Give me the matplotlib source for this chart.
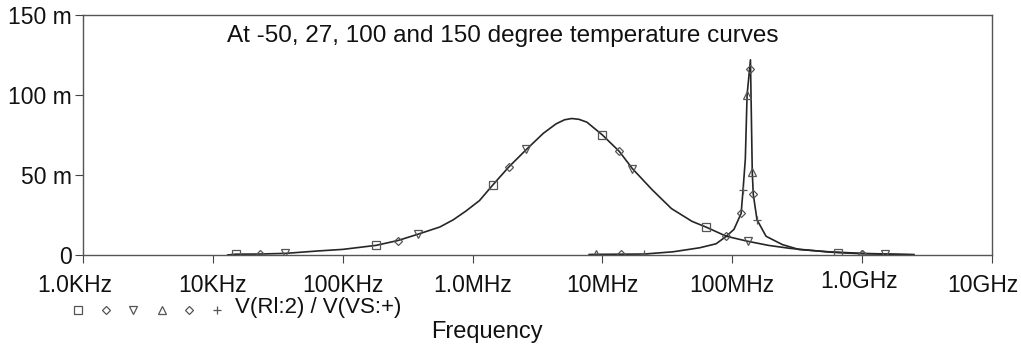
import matplotlib
matplotlib.use("Agg")
import matplotlib.pyplot as plt
import matplotlib.transforms as mtransforms

# curva larga (4 temperaturas sobrepostas), frequencia em Hz, valor em m
freq_a = [13e3, 15e3, 23e3, 36e3, 64e3, 100e3, 180e3, 265e3, 380e3, 560e3,
          710e3, 890e3, 1.13e6, 1.44e6, 1.9e6, 2.6e6, 3.5e6, 4.4e6, 5.1e6,
          5.8e6, 6.6e6, 7.6e6, 10e6, 13.5e6, 17e6, 24e6, 34e6, 49e6, 63e6,
          90e6, 131e6, 190e6, 275e6, 525e6, 650e6, 1.0e9, 1.5e9, 2.5e9]
val_a = [0.0, 0.5, 0.6, 1.0, 2.5, 3.5, 6.0, 9.0, 13.0, 17.5,
         22.0, 27.5, 34.0, 44.0, 55.0, 66.0, 76.0, 82.0, 84.5,
         85.3, 84.8, 83.0, 75.0, 64.7, 54.0, 41.0, 29.0, 21.0, 17.4,
         11.7, 8.6, 6.0, 4.2, 2.0, 1.5, 0.8, 0.5, 0.2]

# curva ressonante estreita
freq_b = [7.9e6, 9e6, 13.8e6, 21e6, 35e6, 56e6, 75e6, 90e6, 103e6,
          117e6, 121e6, 126e6, 130e6, 138e6, 142.5e6, 145e6, 155e6, 182e6, 243e6,
          327e6, 557e6, 1.0e9, 2.5e9]
val_b = [0.3, 0.4, 0.5, 0.6, 2.0, 4.5, 7.0, 11.7, 16.0,
         26.0, 40.6, 60.0, 100.0, 122.0, 52.0, 38.0, 22.0, 11.7, 6.5,
         3.4, 2.0, 1.0, 0.2]

# marcadores de cada traco
mk_sq_f = [15e3, 180e3, 1.44e6, 10e6, 63e6, 650e6]
mk_sq_v = [0.5, 6.0, 44.0, 75.0, 17.4, 1.5]
mk_d1_f = [23e3, 265e3, 1.9e6, 13.5e6, 90e6, 1.0e9]
mk_d1_v = [0.6, 9.0, 55.0, 64.7, 11.7, 0.8]
mk_tdn_f = [36e3, 380e3, 2.6e6, 17e6, 131e6, 1.5e9]
mk_tdn_v = [1.0, 13.0, 66.0, 54.0, 8.6, 0.5]
mk_tup_f = [9e6, 130e6, 142.5e6]
mk_tup_v = [0.4, 100.0, 52.0]
mk_d2_f = [13.8e6, 117e6, 138e6, 145e6, 1.0e9]
mk_d2_v = [0.5, 26.0, 116.0, 38.0, 0.8]
mk_pl_f = [21e6, 121e6, 155e6]
mk_pl_v = [0.6, 40.6, 22.0]

xticks = [1e3, 1e4, 1e5, 1e6, 1e7, 1e8, 1e9, 1e10]
xlabels = ["1.0KHz", "10KHz", "100KHz", "1.0MHz", "10MHz", "100MHz", "1.0GHz", "10GHz"]
yticks = [0, 50, 100, 150]
ylabels = ["0", "50 m", "100 m", "150 m"]

plt.rcParams['font.family'] = ['Liberation Sans', 'DejaVu Sans']
LINE = '#262626'
MK = '#555555'

fig = plt.figure(figsize=(10.21, 3.45), dpi=100)
ax = fig.add_axes([0.0813, 0.2609, 0.8903, 0.6956])

ax.plot(freq_a, val_a, color=LINE, lw=1.2)
ax.plot(freq_b, val_b, color=LINE, lw=1.2)

estilos = [
    (mk_sq_f, mk_sq_v, 's', 5.5),
    (mk_d1_f, mk_d1_v, 'D', 4),
    (mk_tdn_f, mk_tdn_v, 'v', 5.5),
    (mk_tup_f, mk_tup_v, '^', 5.5),
    (mk_d2_f, mk_d2_v, 'D', 4),
    (mk_pl_f, mk_pl_v, '+', 6),
]
for f, v, m, s in estilos:
    ax.plot(f, v, ls='none', marker=m, ms=s, mfc='none', mec=MK, mew=0.9)

ax.set_xscale('log')
ax.set_xlim(1e3, 1e10)
ax.set_ylim(0, 150)
ax.set_xticks(xticks)
ax.set_xticklabels(xlabels)
ax.minorticks_off()
ax.set_yticks(yticks)
ax.set_yticklabels(ylabels)
ax.tick_params(axis='both', labelsize=16.5, color='#444444', labelcolor='#111111')
ax.tick_params(axis='x', length=6, pad=8)
ax.tick_params(axis='y', length=6, pad=2)
for s in ax.spines.values():
    s.set_color('#555555')
    s.set_linewidth(1.0)

# ajuste fino dos rotulos do eixo x
labs = ax.get_xticklabels()
labs[0].set_transform(labs[0].get_transform() + mtransforms.ScaledTranslation(-8 / 100, 0, fig.dpi_scale_trans))
labs[6].set_transform(labs[6].get_transform() + mtransforms.ScaledTranslation(-3 / 100, 4 / 100, fig.dpi_scale_trans))
labs[7].set_transform(labs[7].get_transform() + mtransforms.ScaledTranslation(-9 / 100, 0, fig.dpi_scale_trans))

ax.text(0.158, 0.9125, "At -50, 27, 100 and 150 degree temperature curves",
        transform=ax.transAxes, fontsize=17.5, va='center', ha='left', color='#111111')

# legenda manual
leg_x = [78, 106, 133, 162, 189, 217]
leg_m = ['s', 'D', 'v', '^', 'D', '+']
leg_s = [5.5, 4, 5.5, 5.5, 4, 6]
for x, m, s in zip(leg_x, leg_m, leg_s):
    fig.add_artist(plt.Line2D([x / 1021], [1 - 310 / 345], ls='none', marker=m, ms=s,
                              mfc='none', mec=MK, mew=0.9, transform=fig.transFigure))
fig.text(235 / 1021, 1 - 308 / 345, "V(Rl:2) / V(VS:+)", fontsize=16, va='center', ha='left', color='#111111')
fig.text(431 / 1021, 1 - 332 / 345, "Frequency", fontsize=17, va='center', ha='left', color='#111111')

fig.savefig("out.png", dpi=100)
